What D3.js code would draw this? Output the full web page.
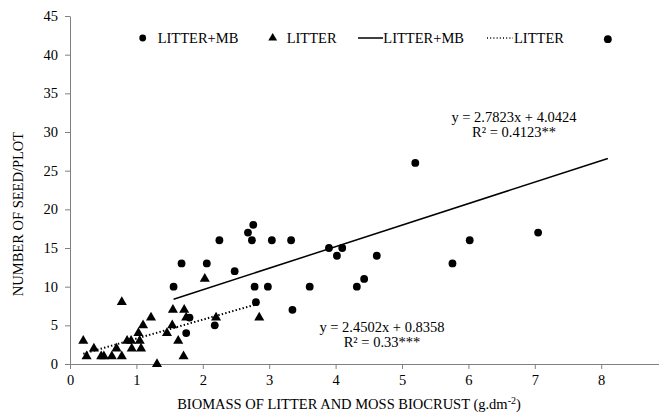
<!DOCTYPE html>
<html>
<head>
<meta charset="utf-8">
<script src="https://cdn.jsdelivr.net/npm/d3@7"></script>
<style>
  html, body { margin: 0; padding: 0; background: #fff; }
  svg { display: block; }
  text { font-family: "Liberation Serif", "Times New Roman", serif; fill: #000; }
</style>
</head>
<body>
<svg id="chart" width="659" height="416"></svg>
<script>
// ---- data ----
const mbX   = [1.56, 1.68, 1.75, 1.80, 2.06, 2.18, 2.25, 2.48, 2.68, 2.74, 2.76, 2.78, 2.80, 2.98, 3.04, 3.33, 3.35, 3.61, 3.90, 4.02, 4.10, 4.32, 4.43, 4.62, 5.20, 5.76, 6.02, 7.05, 8.10];
const mbY   = [10,   13,   4,    6,    13,   5,    16,   12,   17,   16,   18,   10,   8,    10,   16,   16,   7,    10,   15,   14,   15,   10,   11,   14,   26,   13,   16,   17,   42];
const litX  = [0.20, 0.25, 0.36, 0.47, 0.51, 0.63, 0.70, 0.78, 0.78, 0.86, 0.92, 0.93, 1.03, 1.05, 1.07, 1.10, 1.22, 1.31, 1.46, 1.54, 1.55, 1.63, 1.71, 1.72, 1.75, 2.03, 2.20, 2.85];
const litY  = [3,    1,    2,    1,    1,    1,    2,    1,    8,    3,    3,    2,    4,    3,    2,    5,    6,    0,    4,    5,    7,    3,    1,    7,    6,    11,   6,    6];
const mbFit  = [2.7823, 4.0424];   // slope, intercept
const litFit = [2.4502, 0.8358];
const mbEq   = ["y = 2.7823x + 4.0424", "R² = 0.4123**"];
const litEq  = ["y = 2.4502x + 0.8358", "R² = 0.33***"];
const xTicks = [0, 1, 2, 3, 4, 5, 6, 7, 8];
const yTicks = [0, 5, 10, 15, 20, 25, 30, 35, 40, 45];
const legendLabels = ["LITTER+MB", "LITTER", "LITTER+MB", "LITTER"];
const xTitle = "BIOMASS OF LITTER AND MOSS BIOCRUST (g.dm";
const yTitle = "NUMBER OF SEED/PLOT";

// ---- layout ----
const svg = d3.select("#chart");
const FS = 14.5;
const axisCol = "#808080";
const x = d3.scaleLinear().domain([0, 9]).range([70, 667.6]);
const y = d3.scaleLinear().domain([0, 45]).range([364, 16]);

// axes
const yAxis = svg.append("g").attr("transform", `translate(${x(0)},0)`)
  .call(d3.axisLeft(y).tickValues(yTicks).tickSize(5).tickSizeOuter(0).tickPadding(7));
const xAxis = svg.append("g").attr("transform", `translate(0,${y(0)})`)
  .call(d3.axisBottom(x).tickValues(xTicks).tickSize(5).tickSizeOuter(0).tickPadding(6));
[xAxis, yAxis].forEach(g => {
  g.select(".domain").attr("stroke", axisCol).attr("stroke-width", 1);
  g.selectAll(".tick line").attr("stroke", axisCol);
  g.selectAll(".tick text").attr("font-family", "Liberation Serif").attr("font-size", FS).attr("fill", "#000");
});

// axis titles
const xt = svg.append("text").attr("x", 349).attr("y", 409).attr("text-anchor", "middle").attr("font-size", FS);
xt.append("tspan").text(xTitle);
xt.append("tspan").attr("dy", -5).attr("font-size", 10).text("-2");
xt.append("tspan").attr("dy", 5).text(")");
svg.append("text").attr("transform", "translate(23,214) rotate(-90)")
  .attr("text-anchor", "middle").attr("font-size", FS).text(yTitle);

// regression lines
const line = d3.line().x(d => x(d[0])).y(d => y(d[1]));
const mbExt = d3.extent(mbX), litExt = d3.extent(litX);
svg.append("path").datum(mbExt.map(v => [v, mbFit[0] * v + mbFit[1]]))
  .attr("d", line).attr("stroke", "#000").attr("stroke-width", 1.5).attr("fill", "none");
svg.append("path").datum(litExt.map(v => [v, litFit[0] * v + litFit[1]]))
  .attr("d", line).attr("stroke", "#000").attr("stroke-width", 2)
  .attr("stroke-dasharray", "1.4,2.2").attr("fill", "none");

// points
const tri = d3.symbol().type(d3.symbolTriangle).size(44);
svg.append("g").selectAll("path").data(litX.map((v, i) => [v, litY[i]])).join("path")
  .attr("d", tri).attr("transform", d => `translate(${x(d[0])},${y(d[1])})`).attr("fill", "#000");
svg.append("g").selectAll("circle").data(mbX.map((v, i) => [v, mbY[i]])).join("circle")
  .attr("cx", d => x(d[0])).attr("cy", d => y(d[1])).attr("r", 3.9).attr("fill", "#000");

// equations
function eq(lines, cx, cy) {
  lines.forEach((t, i) => svg.append("text").attr("x", cx).attr("y", cy + i * 15)
    .attr("text-anchor", "middle").attr("dominant-baseline", "central").attr("font-size", FS).text(t));
}
eq(mbEq, 514, 117);
eq(litEq, 382, 327);

// legend
const ly = 38;
const lg = svg.append("g");
lg.append("circle").attr("cx", 142.7).attr("cy", ly).attr("r", 3.4).attr("fill", "#000");
lg.append("path").attr("d", d3.symbol().type(d3.symbolTriangle).size(34)).attr("transform", `translate(272.7,${ly})`);
lg.append("line").attr("x1", 358).attr("x2", 383).attr("y1", ly).attr("y2", ly).attr("stroke", "#000").attr("stroke-width", 1.5);
lg.append("line").attr("x1", 487).attr("x2", 513).attr("y1", ly).attr("y2", ly).attr("stroke", "#000").attr("stroke-width", 1.5).attr("stroke-dasharray", "1,2.2");
const lx = [157.7, 286.7, 383.3, 514];
legendLabels.forEach((t, i) => lg.append("text").attr("x", lx[i]).attr("y", ly)
  .attr("dominant-baseline", "central").attr("font-size", FS).text(t));
</script>
</body>
</html>
